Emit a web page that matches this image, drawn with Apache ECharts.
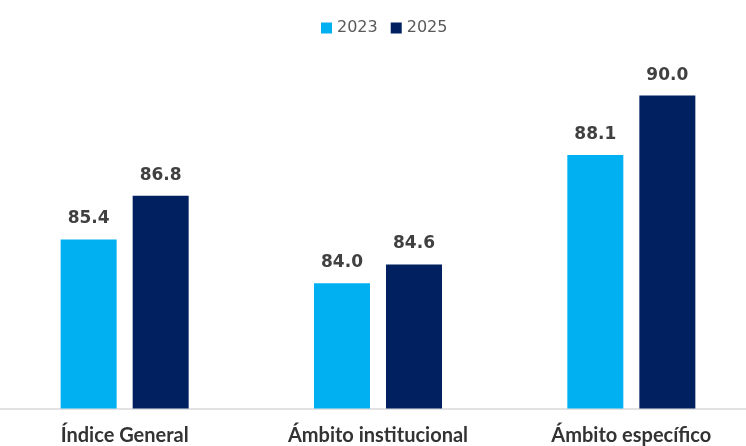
<!DOCTYPE html>
<html>
<head>
<meta charset="utf-8">
<script src="https://cdn.jsdelivr.net/npm/echarts@6/dist/echarts.min.js"></script>
<style>html,body{margin:0;padding:0;background:#fff}#c{width:746px;height:446px}</style>
</head>
<body>
<div id="c"></div>
<script>
const categories = ['Índice General', 'Ámbito institucional', 'Ámbito específico'];
const series2023 = [85.4, 84.0, 88.1];
const series2025 = [86.8, 84.6, 90.0];
const seriesNames = ['2023', '2025'];

const chart = echarts.init(document.getElementById('c'), null, {renderer: 'canvas'});
const labelStyle = {
  show: true, position: 'top', distance: 12,
  fontFamily: 'DejaVu Sans', fontWeight: 'bold', fontSize: 17, color: '#404040',
  formatter: p => p.value.toFixed(1)
};
chart.setOption({
  animation: false,
  legend: {
    left: 316, top: 15, itemWidth: 11, itemHeight: 11, itemGap: 13,
    icon: 'rect',
    textStyle: {fontFamily: 'DejaVu Sans', fontSize: 16, color: '#595959'},
    data: seriesNames
  },
  grid: {left: -2, width: 760, top: 33, bottom: 37.5, containLabel: false, outerBoundsMode: 'none'},
  xAxis: {
    type: 'category', data: categories,
    axisLine: {lineStyle: {color: '#d9d9d9', width: 1.5}},
    axisTick: {show: false},
    axisLabel: {
      margin: 17, fontFamily: 'Lato', fontWeight: 'bold', fontSize: 20, color: '#333333'
    }
  },
  yAxis: {
    type: 'value', min: 80, max: 92, show: false,
    splitLine: {show: false}
  },
  series: [
    {name: seriesNames[0], type: 'bar', data: series2023, barWidth: 56, barGap: '28.6%',
     itemStyle: {color: '#00B0F0'}, label: labelStyle},
    {name: seriesNames[1], type: 'bar', data: series2025, barWidth: 56, barGap: '28.6%',
     itemStyle: {color: '#002060'}, label: labelStyle}
  ]
});
</script>
</body>
</html>
